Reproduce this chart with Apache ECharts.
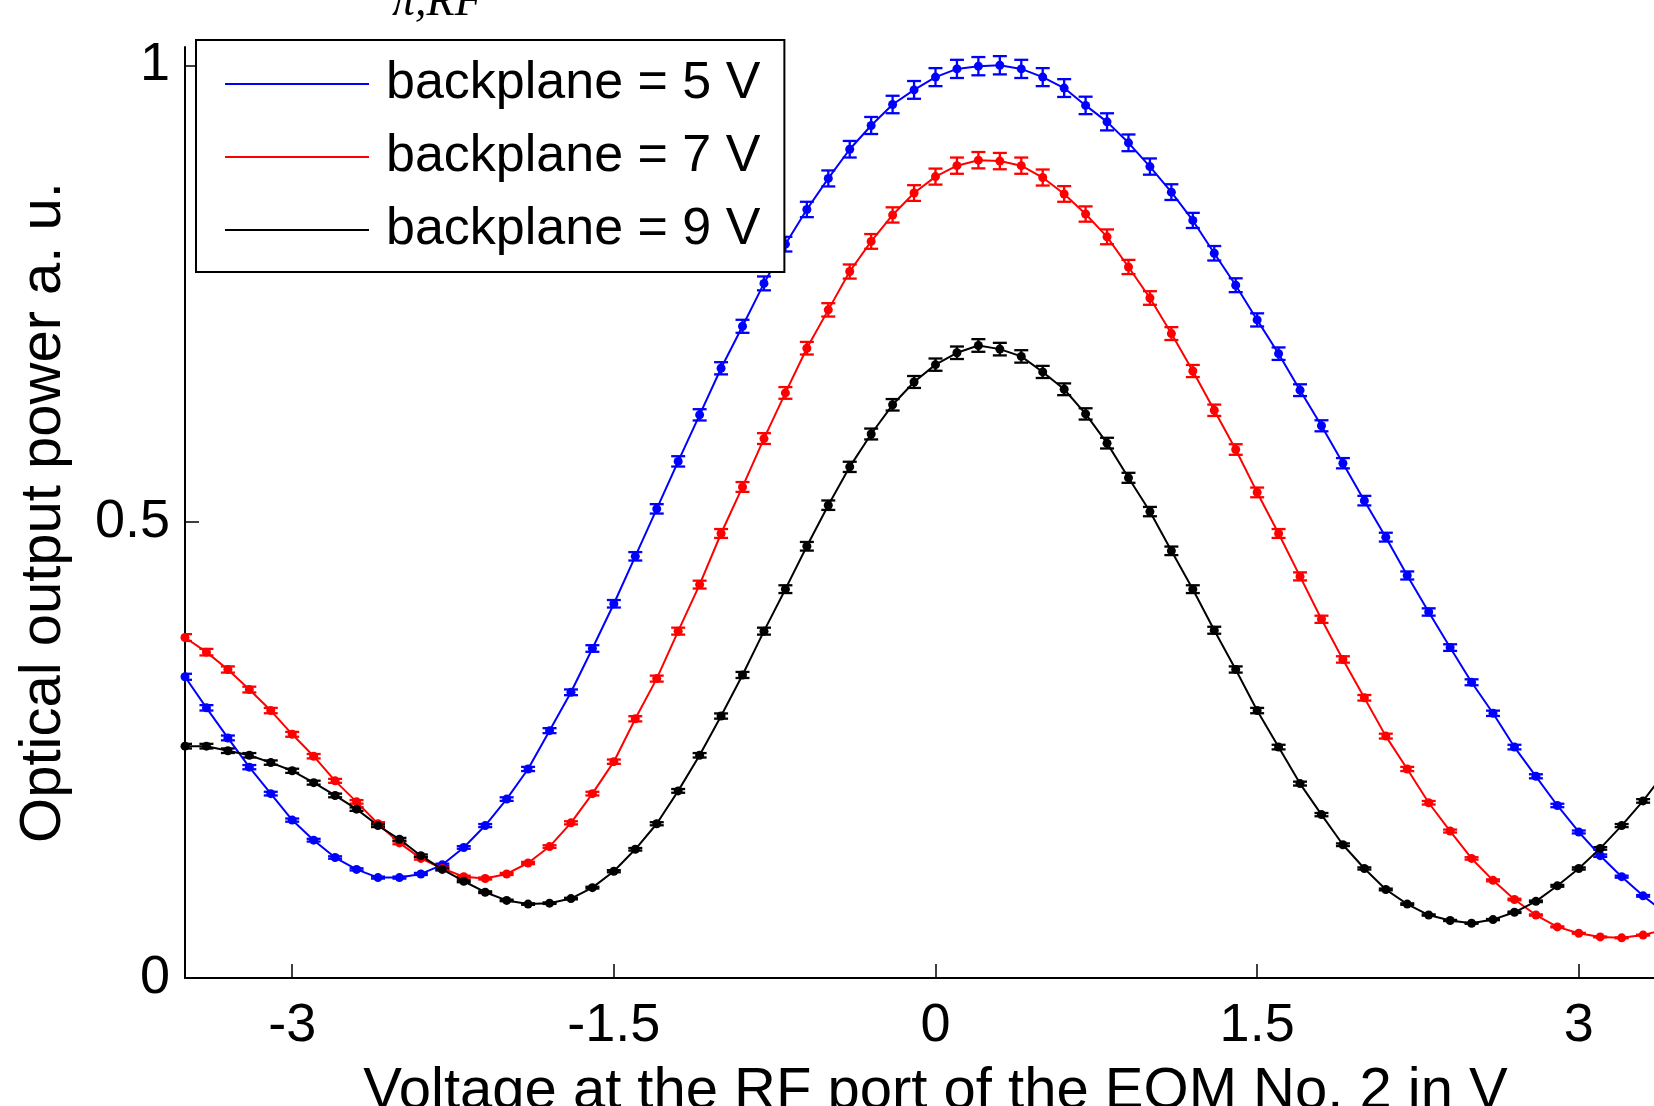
<!DOCTYPE html>
<html>
<head>
<meta charset="utf-8">
<script src="https://cdn.jsdelivr.net/npm/echarts@6/dist/echarts.min.js"></script>
<style>
  html, body { margin: 0; padding: 0; background: #fff; }
  #chart { width: 1654px; height: 1106px; }
</style>
</head>
<body>
<div id="chart"></div>
<script>
// voltage at the RF port (V), one reading every 0.1 V
var voltage = [
  -3.5, -3.4, -3.3, -3.2, -3.1, -3.0, -2.9, -2.8, -2.7, -2.6,
  -2.5, -2.4, -2.3, -2.2, -2.1, -2.0, -1.9, -1.8, -1.7, -1.6,
  -1.5, -1.4, -1.3, -1.2, -1.1, -1.0, -0.9, -0.8, -0.7, -0.6,
  -0.5, -0.4, -0.3, -0.2, -0.1, 0.0, 0.1, 0.2, 0.3, 0.4,
  0.5, 0.6, 0.7, 0.8, 0.9, 1.0, 1.1, 1.2, 1.3, 1.4,
  1.5, 1.6, 1.7, 1.8, 1.9, 2.0, 2.1, 2.2, 2.3, 2.4,
  2.5, 2.6, 2.7, 2.8, 2.9, 3.0, 3.1, 3.2, 3.3, 3.4
];

var power5V = [
  0.330, 0.296, 0.263, 0.231, 0.202, 0.173, 0.151, 0.132, 0.119, 0.110,
  0.110, 0.114, 0.124, 0.143, 0.167, 0.196, 0.229, 0.271, 0.313, 0.361,
  0.410, 0.462, 0.514, 0.566, 0.617, 0.668, 0.714, 0.761, 0.804, 0.842,
  0.876, 0.908, 0.934, 0.957, 0.973, 0.987, 0.996, 0.999, 1.000, 0.996,
  0.987, 0.975, 0.956, 0.938, 0.915, 0.889, 0.861, 0.830, 0.794, 0.759,
  0.721, 0.684, 0.644, 0.605, 0.564, 0.523, 0.483, 0.441, 0.401, 0.362,
  0.324, 0.290, 0.253, 0.221, 0.189, 0.160, 0.134, 0.111, 0.090, 0.072
];

var power7V = [
  0.373, 0.357, 0.338, 0.316, 0.293, 0.267, 0.243, 0.216, 0.193, 0.169,
  0.148, 0.131, 0.120, 0.111, 0.109, 0.114, 0.126, 0.144, 0.170, 0.202,
  0.237, 0.284, 0.328, 0.380, 0.431, 0.487, 0.538, 0.591, 0.641, 0.690,
  0.732, 0.774, 0.807, 0.836, 0.860, 0.878, 0.890, 0.896, 0.895, 0.890,
  0.877, 0.859, 0.837, 0.812, 0.779, 0.745, 0.706, 0.665, 0.622, 0.579,
  0.532, 0.487, 0.440, 0.393, 0.349, 0.307, 0.265, 0.229, 0.192, 0.161,
  0.131, 0.107, 0.086, 0.069, 0.056, 0.049, 0.045, 0.044, 0.047, 0.053
];

var power9V = [
  0.254, 0.254, 0.249, 0.244, 0.236, 0.227, 0.214, 0.200, 0.185, 0.167,
  0.152, 0.134, 0.119, 0.106, 0.094, 0.085, 0.081, 0.082, 0.087, 0.099,
  0.117, 0.141, 0.169, 0.205, 0.244, 0.287, 0.332, 0.380, 0.426, 0.473,
  0.518, 0.560, 0.596, 0.628, 0.653, 0.672, 0.685, 0.693, 0.689, 0.681,
  0.664, 0.645, 0.618, 0.586, 0.548, 0.511, 0.468, 0.426, 0.381, 0.338,
  0.293, 0.253, 0.213, 0.179, 0.146, 0.120, 0.097, 0.081, 0.069, 0.063,
  0.060, 0.064, 0.072, 0.084, 0.101, 0.120, 0.142, 0.167, 0.194, 0.225
];

// error bars look like about 1 % of each reading
var errFraction = 0.01;

var seriesNames = ['backplane = 5 V', 'backplane = 7 V', 'backplane = 9 V'];
var seriesColors = ['#0000ff', '#ff0000', '#000000'];
var xTicks = [-3, -1.5, 0, 1.5, 3];
var yTicks = [0, 0.5, 1];

var FONT = '"Liberation Sans", Arial, sans-serif';

function toPoints(values) {
  return values.map(function (v, i) { return [voltage[i], v]; });
}

function toErrors(values) {
  return values.map(function (v, i) {
    return [voltage[i], v * (1 - errFraction), v * (1 + errFraction)];
  });
}

function renderErrorBar(color) {
  return function (params, api) {
    var x = api.value(0);
    var lo = api.coord([x, api.value(1)]);
    var hi = api.coord([x, api.value(2)]);
    var half = 7;
    var style = { stroke: color, lineWidth: 2.3 };
    return {
      type: 'group',
      children: [
        { type: 'line', shape: { x1: lo[0], y1: lo[1], x2: hi[0], y2: hi[1] }, style: style },
        { type: 'line', shape: { x1: lo[0] - half, y1: lo[1], x2: lo[0] + half, y2: lo[1] }, style: style },
        { type: 'line', shape: { x1: hi[0] - half, y1: hi[1], x2: hi[0] + half, y2: hi[1] }, style: style }
      ]
    };
  };
}

var allValues = [power5V, power7V, power9V];
var series = [];
allValues.forEach(function (vals, k) {
  series.push({
    name: seriesNames[k],
    type: 'line',
    data: toPoints(vals),
    symbol: 'circle',
    symbolSize: 9,
    showSymbol: true,
    clip: true,
    itemStyle: { color: seriesColors[k] },
    lineStyle: { color: seriesColors[k], width: 2 },
    z: 3
  });
  series.push({
    name: seriesNames[k],
    type: 'custom',
    renderItem: renderErrorBar(seriesColors[k]),
    data: toErrors(vals),
    itemStyle: { color: seriesColors[k] },
    clip: true,
    silent: true,
    z: 2
  });
});

var chart = echarts.init(document.getElementById('chart'));

var option = {
  animation: false,
  backgroundColor: '#ffffff',
  grid: {
    left: 185, top: 47, right: -32, bottom: 128,
    containLabel: false,
    outerBoundsMode: 'none'
  },
  legend: {
    data: seriesNames,
    orient: 'vertical',
    left: 196,
    top: 40,
    padding: [18, 24, 16, 29],
    itemGap: 21,
    itemWidth: 144,
    itemHeight: 2,
    icon: 'rect',
    backgroundColor: '#ffffff',
    borderColor: '#000000',
    borderWidth: 2,
    borderRadius: 0,
    selectedMode: false,
    formatter: function (name) { return '{t|' + name + '}'; },
    textStyle: {
      fontFamily: FONT,
      fontSize: 52,
      lineHeight: 51,
      color: '#000000',
      rich: {
        t: { fontFamily: FONT, fontSize: 52, lineHeight: 51, color: '#000000', padding: [0, 0, 0, 12] }
      }
    },
    z: 10
  },
  graphic: [
    {
      type: 'text',
      left: 392,
      top: -20,
      style: {
        text: 'π,RF',
        fontFamily: '"Liberation Serif", "DejaVu Serif", serif',
        fontStyle: 'italic',
        fontSize: 46,
        fill: '#000000'
      }
    }
  ],
  xAxis: {
    type: 'value',
    min: -3.5,
    max: 3.5,
    name: 'Voltage at the RF port of the EOM No. 2 in V',
    nameLocation: 'middle',
    nameGap: 85,
    nameTextStyle: { fontFamily: FONT, fontSize: 58, color: '#000000' },
    axisLine: { show: true, onZero: false, lineStyle: { color: '#000000', width: 2 } },
    axisTick: { show: true, inside: true, length: 14, customValues: xTicks, lineStyle: { color: '#000000', width: 1.5 } },
    axisLabel: {
      customValues: xTicks,
      margin: 21,
      fontFamily: FONT,
      fontSize: 54,
      color: '#000000'
    },
    splitLine: { show: false }
  },
  yAxis: {
    type: 'value',
    min: 0,
    max: 1.02,
    name: 'Optical output power a. u.',
    nameLocation: 'middle',
    nameGap: 112,
    nameTextStyle: { fontFamily: FONT, fontSize: 58, color: '#000000' },
    axisLine: { show: true, onZero: false, lineStyle: { color: '#000000', width: 2 } },
    axisTick: { show: true, inside: true, length: 14, customValues: yTicks, lineStyle: { color: '#000000', width: 1.5 } },
    axisLabel: {
      customValues: yTicks,
      margin: 15,
      fontFamily: FONT,
      fontSize: 54,
      color: '#000000'
    },
    splitLine: { show: false }
  },
  series: series
};

option && chart.setOption(option);
</script>
</body>
</html>
